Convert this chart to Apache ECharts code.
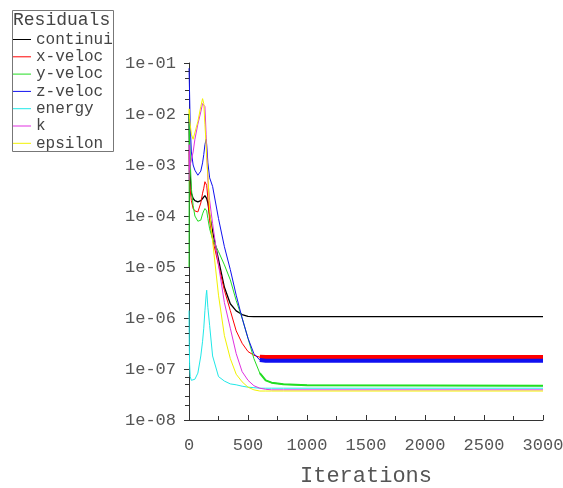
<!DOCTYPE html>
<html>
<head>
<meta charset="utf-8">
<script src="https://cdn.jsdelivr.net/npm/echarts@6/dist/echarts.min.js"></script>
<style>
html,body{margin:0;padding:0;background:#fff;}
#chart{width:563px;height:488px;}
</style>
</head>
<body>
<div id="chart"></div>
<script>
// ---- data ----
const iterations = [0, 2, 5, 10, 20, 35, 50, 75, 100, 115, 125, 135, 145, 150, 160, 175, 200, 250, 300, 350, 400, 450, 500, 550, 600, 650, 700, 800, 1000, 3000];

const continuity = [1.0e-2, 4.0e-3, 1.6e-3, 6.3e-4, 2.8e-4, 2.2e-4, 2.0e-4, 1.9e-4, 2.0e-4, 2.2e-4, 2.4e-4, 2.5e-4, 2.5e-4, 2.2e-4, 1.8e-4, 1.05e-4, 5.0e-5, 1.4e-5, 4.0e-6, 1.9e-6, 1.38e-6, 1.17e-6, 1.08e-6, 1.06e-6, 1.06e-6, 1.06e-6, 1.06e-6, 1.06e-6, 1.06e-6, 1.06e-6];
const xVelocity = [2.0e-3, 1.0e-3, 5.0e-4, 3.2e-4, 2.0e-4, 1.4e-4, 1.26e-4, 1.2e-4, 1.8e-4, 2.8e-4, 3.5e-4, 4.7e-4, 5.0e-4, 4.0e-4, 2.2e-4, 8.0e-5, 3.5e-5, 1.1e-5, 3.5e-6, 1.4e-6, 5.6e-7, 3.2e-7, 2.2e-7, 1.86e-7, 1.7e-7, 1.68e-7, 1.68e-7, 1.68e-7, 1.68e-7, 1.68e-7];
const yVelocity = [1.0e-5, 1.0e-2, 5.0e-3, 1.26e-3, 3.5e-4, 1.6e-4, 1.0e-4, 7.9e-5, 8.3e-5, 1.1e-4, 1.26e-4, 1.4e-4, 1.4e-4, 1.26e-4, 8.9e-5, 5.6e-5, 3.5e-5, 2.0e-5, 1.1e-5, 5.6e-6, 2.2e-6, 1.0e-6, 4.0e-7, 1.6e-7, 8.3e-8, 6.0e-8, 5.4e-8, 5.0e-8, 4.8e-8, 4.7e-8];
const zVelocity = [7.9e-2, 5.0e-2, 2.5e-2, 6.3e-3, 1.8e-3, 1.0e-3, 7.9e-4, 6.3e-4, 7.6e-4, 1.1e-3, 1.6e-3, 2.5e-3, 3.2e-3, 2.5e-3, 1.1e-3, 5.6e-4, 3.8e-4, 8.9e-5, 2.5e-5, 8.9e-6, 2.8e-6, 1.0e-6, 4.0e-7, 2.0e-7, 1.5e-7, 1.45e-7, 1.45e-7, 1.45e-7, 1.45e-7, 1.45e-7];
const energy = [1.4e-6, 3.2e-7, 1.26e-7, 7.1e-8, 6.0e-8, 5.9e-8, 6.3e-8, 8.3e-8, 1.8e-7, 3.5e-7, 6.3e-7, 1.4e-6, 2.8e-6, 3.5e-6, 1.6e-6, 7.1e-7, 1.8e-7, 7.1e-8, 5.8e-8, 5.1e-8, 4.9e-8, 4.6e-8, 4.4e-8, 4.3e-8, 4.2e-8, 4.2e-8, 4.2e-8, 4.2e-8, 4.2e-8, 4.2e-8];
const kResidual = [5.0e-4, 2.5e-3, 7.9e-4, 1.0e-3, 1.26e-3, 1.8e-3, 3.2e-3, 6.3e-3, 1.1e-2, 1.6e-2, 1.74e-2, 1.4e-2, 4.0e-3, 2.0e-3, 5.0e-4, 2.0e-4, 7.1e-5, 1.1e-5, 2.0e-6, 6.3e-7, 2.0e-7, 8.9e-8, 6.0e-8, 4.7e-8, 4.2e-8, 4.0e-8, 3.9e-8, 3.9e-8, 3.9e-8, 3.9e-8];
const epsilon = [1.0e-2, 1.26e-2, 7.9e-3, 6.3e-3, 4.0e-3, 3.2e-3, 3.5e-3, 7.1e-3, 1.4e-2, 2.0e-2, 1.6e-2, 6.3e-3, 2.5e-3, 1.4e-3, 6.3e-4, 1.26e-4, 3.2e-5, 2.8e-6, 4.5e-7, 1.6e-7, 7.9e-8, 5.6e-8, 4.4e-8, 3.9e-8, 3.7e-8, 3.7e-8, 3.7e-8, 3.7e-8, 3.7e-8, 3.7e-8];

const seriesNames = ['continuity', 'x-velocity', 'y-velocity', 'z-velocity', 'energy', 'k', 'epsilon'];
const legendLabels = ['continui', 'x-veloc', 'y-veloc', 'z-veloc', 'energy', 'k', 'epsilon'];
const seriesColors = ['#000000', '#ff0000', '#22dd22', '#1010f0', '#20e8e8', '#e030e0', '#f2f200'];
const yTickLabels = ['1e-08', '1e-07', '1e-06', '1e-05', '1e-04', '1e-03', '1e-02', '1e-01'];
const minorTickValues = [2e-8, 3e-8, 5e-8, 7e-8, 2e-7, 3e-7, 5e-7, 7e-7, 2e-6, 3e-6, 5e-6, 7e-6, 2e-5, 3e-5, 5e-5, 7e-5, 2e-4, 3e-4, 5e-4, 7e-4, 2e-3, 3e-3, 5e-3, 7e-3, 2e-2, 3e-2, 5e-2, 7e-2];
const tailStart = 600;

// ---- build ----
const allValues = [continuity, xVelocity, yVelocity, zVelocity, energy, kResidual, epsilon];
const FONT = 'Liberation Mono';

const series = [];
allValues.forEach((vals, i) => {
  series.push({
    name: seriesNames[i],
    type: 'line',
    data: iterations.map((it, j) => [it, vals[j]]),
    showSymbol: false,
    symbol: 'none',
    color: seriesColors[i],
    lineStyle: { color: seriesColors[i], width: (i === 0 ? 1.3 : 1) },
    animation: false,
    z: 2 + i
  });
});
// noisy bands of the tails (thicker stroke)
const bandWidths = {1: 5, 3: 4, 2: 2};
Object.keys(bandWidths).forEach(k => {
  const i = +k;
  series.push({
    name: seriesNames[i],
    type: 'line',
    data: iterations.map((it, j) => [it, allValues[i][j]]).filter(p => p[0] >= tailStart),
    showSymbol: false,
    symbol: 'none',
    color: seriesColors[i],
    lineStyle: { color: seriesColors[i], width: bandWidths[k] },
    animation: false,
    z: 2 + i
  });
});
// minor ticks of the log axis, placed through the axis scale
series.push({
  type: 'custom',
  name: 'minorTicks',
  data: minorTickValues.map(v => [0, v]),
  clip: false,
  silent: true,
  animation: false,
  z: 20,
  renderItem: (params, api) => {
    const p = api.coord([0, api.value(1)]);
    const y = Math.round(p[1]) + 0.5;
    return {
      type: 'line',
      shape: { x1: p[0] - 4, y1: y, x2: p[0], y2: y },
      style: { stroke: '#333', lineWidth: 1 }
    };
  }
});

const chart = echarts.init(document.getElementById('chart'), null, { renderer: 'canvas' });
chart.setOption({
  animation: false,
  backgroundColor: '#ffffff',
  color: seriesColors,
  title: {
    text: 'Residuals',
    left: 13, top: 11, padding: 0,
    textStyle: { fontFamily: FONT, fontSize: 18, fontWeight: 'normal', color: '#444' }
  },
  legend: {
    data: seriesNames.map(n => ({ name: n, icon: 'rect' })),
    orient: 'vertical',
    left: 13, top: 31, padding: 0,
    itemGap: 0.3, itemWidth: 18, itemHeight: 1,
    selectedMode: false,
    formatter: name => legendLabels[seriesNames.indexOf(name)],
    textStyle: { fontFamily: FONT, fontSize: 16, lineHeight: 17, color: '#444' }
  },
  graphic: [{
    type: 'rect',
    shape: { x: 12.5, y: 10.5, width: 101, height: 141 },
    style: { fill: 'none', stroke: '#777', lineWidth: 1 },
    silent: true
  }],
  grid: { left: 189, right: 20, top: 63, bottom: 68, containLabel: false, outerBoundsMode: 'none' },
  xAxis: {
    type: 'value', min: 0, max: 3000, interval: 500,
    name: 'Iterations', nameLocation: 'middle', nameGap: 45,
    nameTextStyle: { fontFamily: FONT, fontSize: 22, color: '#555' },
    axisLine: { show: true, onZero: false, lineStyle: { color: '#333', width: 1 } },
    axisTick: { show: true, inside: true, length: 5, lineStyle: { color: '#333' } },
    minorTick: { show: true, splitNumber: 2, length: 4, lineStyle: { color: '#333' } },
    axisLabel: { fontFamily: FONT, fontSize: 17, color: '#555', margin: 17, formatter: v => String(v) },
    splitLine: { show: false }
  },
  yAxis: {
    type: 'log', logBase: 10, min: 1e-8, max: 1e-1, interval: 1,
    axisLine: { show: true, lineStyle: { color: '#333', width: 1 } },
    axisTick: { show: true, inside: false, length: 5, lineStyle: { color: '#333' } },
    axisLabel: {
      fontFamily: FONT, fontSize: 17, color: '#555', margin: 13,
      formatter: v => yTickLabels[Math.round(Math.log10(v)) + 8]
    },
    splitLine: { show: false }
  },
  series: series
});
</script>
</body>
</html>
